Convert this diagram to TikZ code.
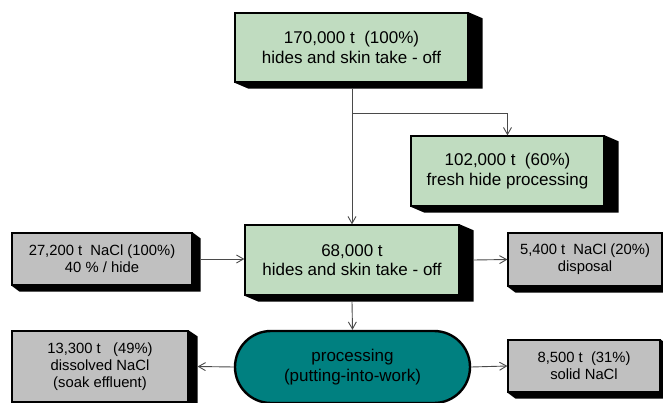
\documentclass[tikz,border=0pt]{standalone}
\usepackage{fontspec}
\setmainfont{Liberation Sans}
\usetikzlibrary{arrows.meta,shapes.misc,calc}
\definecolor{boxgreen}{HTML}{C0DCC0}
\definecolor{boxgrey}{HTML}{C0C0C0}
\definecolor{procteal}{HTML}{008080}
\definecolor{wire}{HTML}{4A4A4A}
\begin{document}
\begin{tikzpicture}[x=1pt,y=-1pt,
  greenbox/.style={draw=black, line width=1.3pt, fill=boxgreen, align=center,
    font=\fontsize{17}{19.5}\selectfont, inner sep=0pt},
  greybox/.style={draw=black, line width=1.2pt, fill=boxgrey, align=center,
    font=\fontsize{14.8}{17}\selectfont, inner sep=0pt},
  procbox/.style={rounded rectangle, draw=black, line width=2.4pt, fill=procteal,
    align=center, font=\fontsize{17}{19.5}\selectfont, inner sep=0pt},
  conn/.style={draw=wire, line width=0.9pt, -{Straight Barb[length=7pt,width=8pt,line width=0.9pt]}},
  wireline/.style={draw=wire, line width=0.9pt}]
\useasboundingbox (0,0) rectangle (663,403);
\clip (0,0) rectangle (663,403);

% material nodes
\node[greenbox, minimum width=233pt, minimum height=69pt] (top) at (351.5,47.5)
  {170,000 t~ (100\%)\\hides and skin take - off};
\node[greenbox, minimum width=193pt, minimum height=70pt] (fresh) at (507.5,171)
  {102,000 t~ (60\%)\\fresh hide processing};
\node[greenbox, minimum width=214pt, minimum height=70pt] (mid) at (352,260)
  {68,000 t\\hides and skin take - off};
\node[greybox, minimum width=180pt, minimum height=52pt] (salt) at (102,259)
  {27,200 t~ NaCl (100\%)\\40 \% / hide};
\node[greybox, minimum width=154pt, minimum height=53pt] (disp) at (585,259.5)
  {5,400 t~ NaCl (20\%)\\disposal};
\node[greybox, minimum width=176pt, minimum height=71pt] (diss) at (100,366.5)
  {13,300 t~~ (49\%)\\dissolved NaCl\\(soak effluent)};
\node[greybox, minimum width=152pt, minimum height=52pt] (solid) at (584,366)
  {8,500 t~ (31\%)\\solid NaCl};
\node[procbox, minimum width=235pt, minimum height=72pt] (proc) at (352.5,367)
  {processing\\(putting-into-work)};

% extruded black shadows to the right and below each box
\foreach \n/\dx in {top/14, fresh/14, mid/14, salt/8, disp/8, diss/9, solid/8}
  \fill[black] (\n.north east) -- ++(\dx,6) -- ($(\n.south east)+(\dx,6)$)
    -- ($(\n.south west)+(\dx,6)$) -- (\n.south west) -- (\n.south east) -- cycle;

% flows
\coordinate (split) at (353,113);
\draw[conn] ([yshift=-6pt]top.south -| mid.north) -- (mid.north);
\draw[conn] (split) -| (fresh.north);
\draw[conn] ([xshift=8pt]salt.east) -- (salt.east -| mid.west);
\draw[conn] ([xshift=14pt]mid.east) -- (disp.west);
\draw[conn] ([yshift=-6pt]mid.south) -- (proc.north);
\draw[conn] (proc.west) -- ([xshift=9pt]diss.east);
\draw[conn] (proc.east) -- (solid.west);
\end{tikzpicture}
\end{document}
